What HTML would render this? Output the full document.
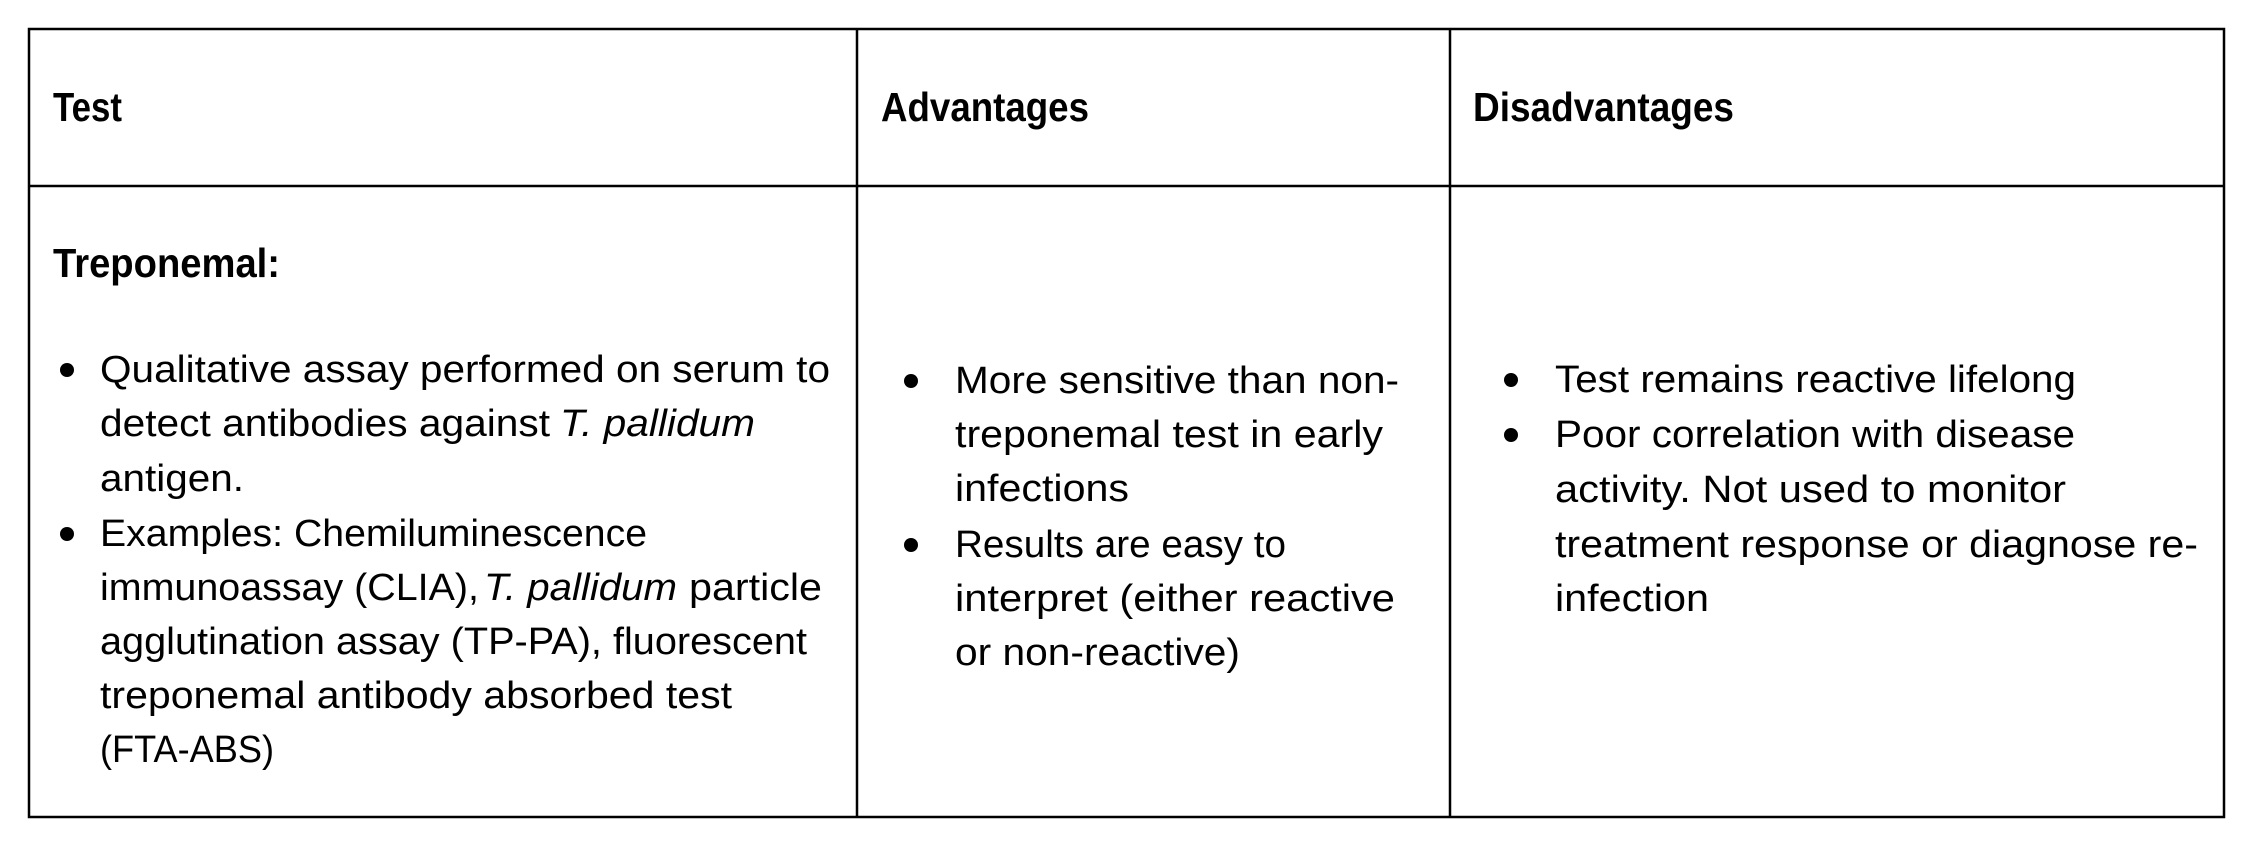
<!DOCTYPE html>
<html><head><meta charset="utf-8"><style>
html,body{margin:0;padding:0;background:#fff;}
svg{display:block;}
text{font-family:"Liberation Sans",sans-serif;fill:#000;}
.h{font-weight:bold;font-size:41px;}
.b{font-size:38px;}
</style></head><body>
<svg width="2250" height="843" viewBox="0 0 2250 843" xmlns="http://www.w3.org/2000/svg">
<rect x="0" y="0" width="2250" height="843" fill="#fff"/>
<g stroke="#000" stroke-width="2.5" fill="none">
<rect x="29" y="29" width="2195" height="788"/>
<line x1="29" y1="186" x2="2224" y2="186"/>
<line x1="857" y1="29" x2="857" y2="817"/>
<line x1="1450" y1="29" x2="1450" y2="817"/>
</g>
<text class="h" x="53" y="121" textLength="69" lengthAdjust="spacingAndGlyphs">Test</text>
<text class="h" x="881" y="121" textLength="208" lengthAdjust="spacingAndGlyphs">Advantages</text>
<text class="h" x="1473" y="121" textLength="261" lengthAdjust="spacingAndGlyphs">Disadvantages</text>
<text class="h" x="53" y="277" textLength="227" lengthAdjust="spacingAndGlyphs">Treponemal:</text>

<g fill="#000">
<circle cx="67" cy="370" r="7"/><circle cx="67" cy="534" r="7"/>
<circle cx="911" cy="381" r="7"/><circle cx="911" cy="545" r="7"/>
<circle cx="1511" cy="380" r="7"/><circle cx="1511" cy="435" r="7"/>
</g>

<text class="b" x="100" y="382" textLength="730" lengthAdjust="spacingAndGlyphs">Qualitative assay performed on serum to</text>
<text class="b" x="100" y="436" textLength="450" lengthAdjust="spacingAndGlyphs">detect antibodies against</text>
<text class="b" x="560" y="436" font-style="italic" textLength="195" lengthAdjust="spacingAndGlyphs">T. pallidum</text>
<text class="b" x="100" y="491" textLength="144" lengthAdjust="spacingAndGlyphs">antigen.</text>
<text class="b" x="100" y="546" textLength="547" lengthAdjust="spacingAndGlyphs">Examples: Chemiluminescence</text>
<text class="b" x="100" y="600" textLength="379" lengthAdjust="spacingAndGlyphs">immunoassay (CLIA),</text>
<text class="b" x="484" y="600" font-style="italic" textLength="193" lengthAdjust="spacingAndGlyphs">T. pallidum</text>
<text class="b" x="689" y="600" textLength="133" lengthAdjust="spacingAndGlyphs">particle</text>
<text class="b" x="100" y="654" textLength="707" lengthAdjust="spacingAndGlyphs">agglutination assay (TP-PA), fluorescent</text>
<text class="b" x="100" y="708" textLength="632" lengthAdjust="spacingAndGlyphs">treponemal antibody absorbed test</text>
<text class="b" x="100" y="762" textLength="174" lengthAdjust="spacingAndGlyphs">(FTA-ABS)</text>

<text class="b" x="955" y="393" textLength="444" lengthAdjust="spacingAndGlyphs">More sensitive than non-</text>
<text class="b" x="955" y="447" textLength="428" lengthAdjust="spacingAndGlyphs">treponemal test in early</text>
<text class="b" x="955" y="501" textLength="174" lengthAdjust="spacingAndGlyphs">infections</text>
<text class="b" x="955" y="557" textLength="331" lengthAdjust="spacingAndGlyphs">Results are easy to</text>
<text class="b" x="955" y="611" textLength="440" lengthAdjust="spacingAndGlyphs">interpret (either reactive</text>
<text class="b" x="955" y="665" textLength="285" lengthAdjust="spacingAndGlyphs">or non-reactive)</text>

<text class="b" x="1555" y="392" textLength="521" lengthAdjust="spacingAndGlyphs">Test remains reactive lifelong</text>
<text class="b" x="1555" y="447" textLength="520" lengthAdjust="spacingAndGlyphs">Poor correlation with disease</text>
<text class="b" x="1555" y="502" textLength="511" lengthAdjust="spacingAndGlyphs">activity. Not used to monitor</text>
<text class="b" x="1555" y="557" textLength="643" lengthAdjust="spacingAndGlyphs">treatment response or diagnose re-</text>
<text class="b" x="1555" y="611" textLength="154" lengthAdjust="spacingAndGlyphs">infection</text>
</svg>
</body></html>
